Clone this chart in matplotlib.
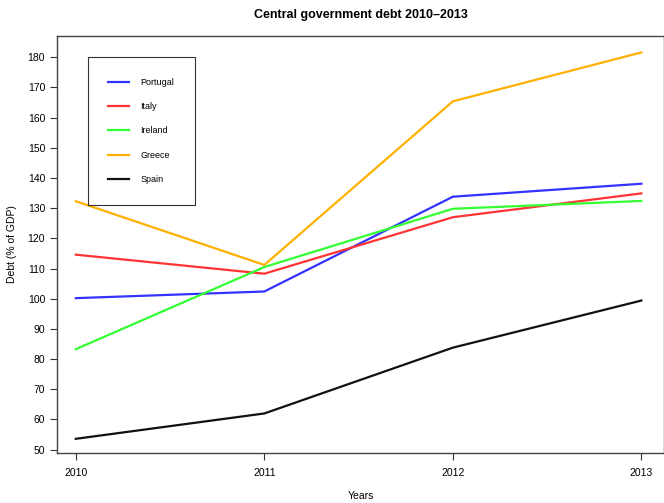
import matplotlib
matplotlib.use("Agg")
import matplotlib.pyplot as plt

plt.rcParams['font.family'] = ['Liberation Sans', 'DejaVu Sans']

# Data
years = [2010, 2011, 2012, 2013]
countries = ['Portugal', 'Italy', 'Ireland', 'Greece', 'Spain']
portugal = [100.2, 102.4, 133.8, 138.1]
italy = [114.6, 108.3, 127.0, 134.9]
ireland = [83.3, 110.5, 129.8, 132.4]
greece = [132.3, 111.2, 165.4, 181.6]
spain = [53.6, 62.0, 83.8, 99.4]
colors = ['#3333ff', '#ff3333', '#33ff33', '#ffb000', '#111111']
y_ticks = list(range(50, 181, 10))

fig = plt.figure(figsize=(6.64, 5.03), dpi=100)
ax = fig.add_axes([0.0858, 0.0994, 0.9142, 0.8288])

series = [portugal, italy, ireland, greece, spain]
for name, vals, col in zip(countries, series, colors):
    ax.plot(years, vals, color=col, linewidth=1.6, label=name)

ax.set_xlim(2010 - 0.1, 2013 + 0.12)
ax.set_ylim(48.9, 187.0)
ax.set_xticks(years)
ax.set_yticks(y_ticks)
ax.tick_params(labelsize=7.5, length=5, width=0.8, color='#333333')
ax.tick_params(axis='x', pad=6)
for s in ax.spines.values():
    s.set_linewidth(1.0)
    s.set_color('#444444')

ax.set_title('Central government debt 2010\u20132013', fontsize=9, fontweight='bold', pad=13)
ax.set_ylabel('Debt (% of GDP)', fontsize=7.5, labelpad=8)
ax.set_xlabel('Years', fontsize=7.5)
ax.xaxis.set_label_coords(0.5, -0.09)

leg = ax.legend(loc='upper left', bbox_to_anchor=(0.0506, 0.95), fontsize=6.5,
                frameon=True, fancybox=False, edgecolor='black', handlelength=2.3,
                handletextpad=1.2, labelspacing=1.7, borderpad=2.3, borderaxespad=0)
leg.get_frame().set_linewidth(0.8)

fig.savefig('out.png', dpi=100)
